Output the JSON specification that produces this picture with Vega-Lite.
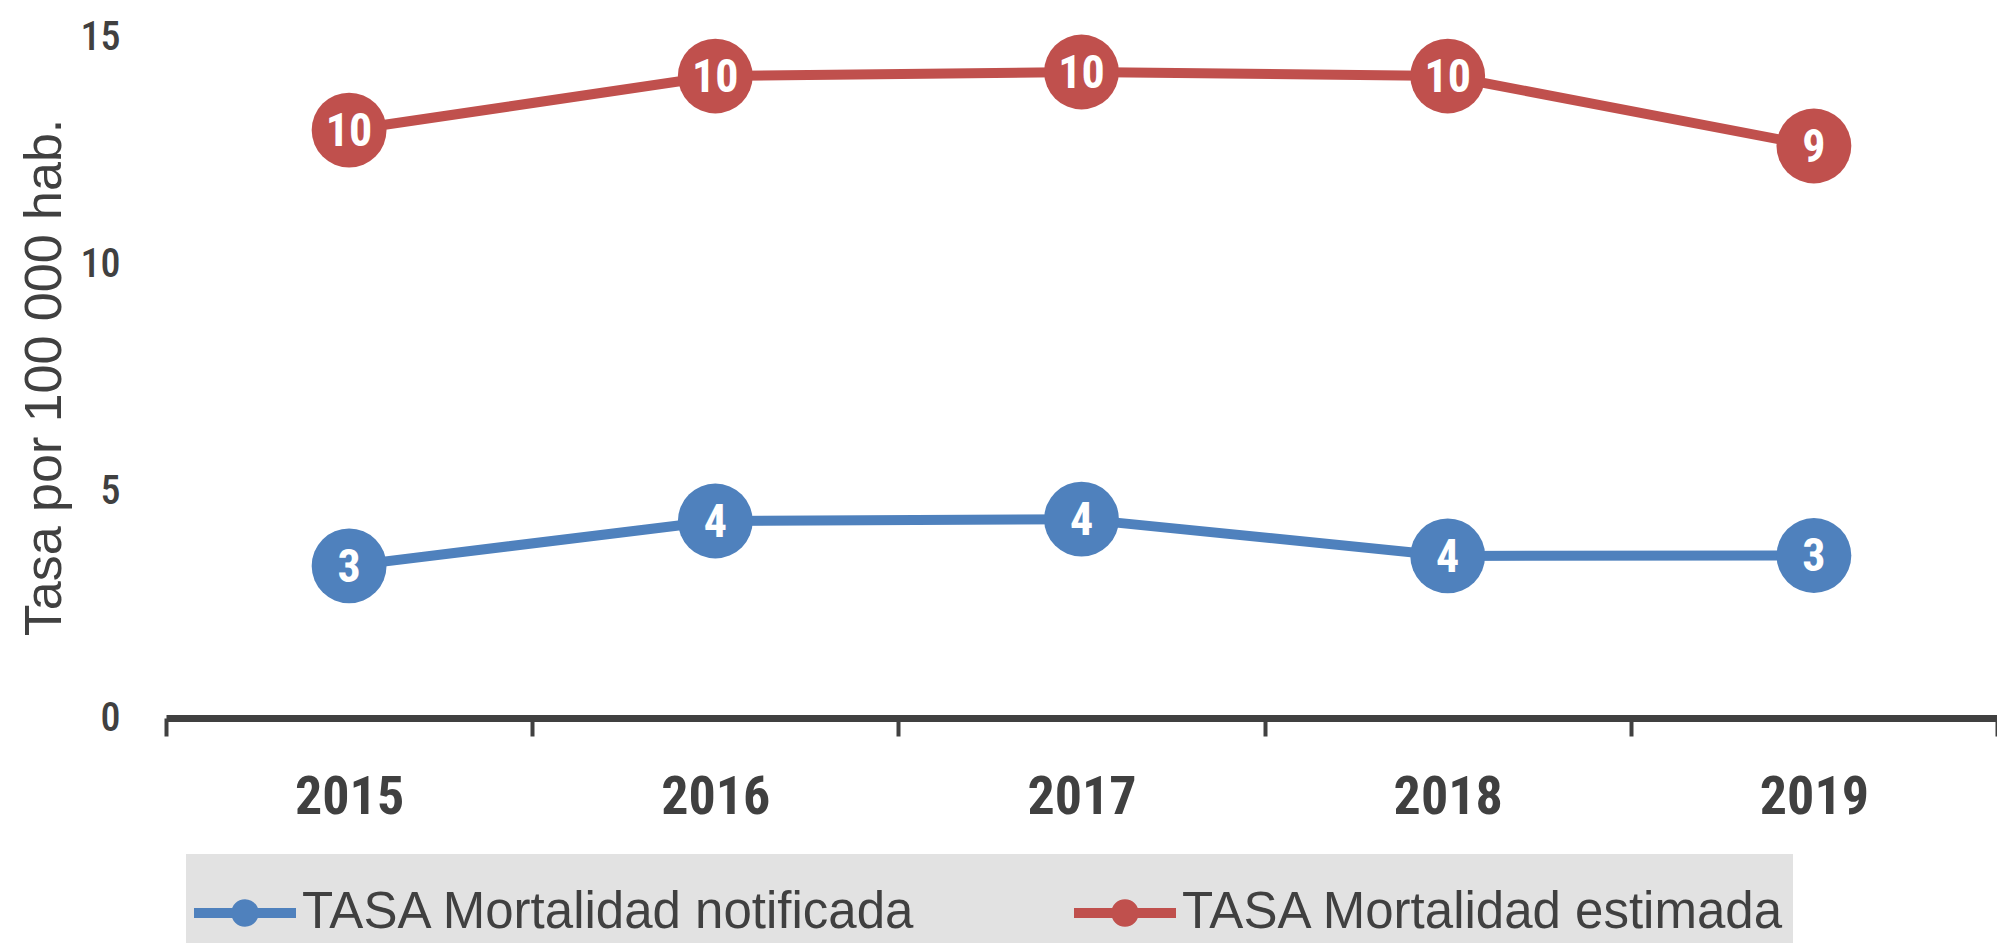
{
  "$schema": "https://vega.github.io/schema/vega-lite/v6.json",
  "width": 1831,
  "height": 681,
  "autosize": {"type": "none"},
  "padding": {"left": 166, "top": 37, "right": 0, "bottom": 225},
  "background": "#ffffff",
  "config": {"view": {"stroke": null}},
  "data": {
    "values": [
      {"anio": "2015", "serie": "TASA Mortalidad notificada", "valor": 3.35, "etiqueta": "3"},
      {"anio": "2016", "serie": "TASA Mortalidad notificada", "valor": 4.34, "etiqueta": "4"},
      {"anio": "2017", "serie": "TASA Mortalidad notificada", "valor": 4.38, "etiqueta": "4"},
      {"anio": "2018", "serie": "TASA Mortalidad notificada", "valor": 3.57, "etiqueta": "4"},
      {"anio": "2019", "serie": "TASA Mortalidad notificada", "valor": 3.58, "etiqueta": "3"},
      {"anio": "2015", "serie": "TASA Mortalidad estimada", "valor": 12.95, "etiqueta": "10"},
      {"anio": "2016", "serie": "TASA Mortalidad estimada", "valor": 14.14, "etiqueta": "10"},
      {"anio": "2017", "serie": "TASA Mortalidad estimada", "valor": 14.23, "etiqueta": "10"},
      {"anio": "2018", "serie": "TASA Mortalidad estimada", "valor": 14.14, "etiqueta": "10"},
      {"anio": "2019", "serie": "TASA Mortalidad estimada", "valor": 12.6, "etiqueta": "9"}
    ]
  },
  "encoding": {
    "x": {
      "field": "anio",
      "type": "ordinal",
      "scale": {"type": "band", "paddingInner": 0, "paddingOuter": 0},
      "axis": {
        "title": null,
        "labelAngle": 0,
        "domainColor": "#404040",
        "domainWidth": 7,
        "tickColor": "#404040",
        "tickWidth": 4,
        "tickSize": 18,
        "tickBand": "extent",
        "labelFont": "Roboto Condensed, DejaVu Sans Condensed, sans-serif",
        "labelFontSize": 54,
        "labelFontWeight": "bold",
        "labelColor": "#404040",
        "labelPadding": 34
      }
    },
    "y": {
      "field": "valor",
      "type": "quantitative",
      "scale": {"domain": [0, 15], "nice": false},
      "axis": {
        "values": [0, 5, 10, 15],
        "domain": false,
        "ticks": false,
        "tickSize": 0,
        "grid": false,
        "labelFont": "Roboto Condensed, DejaVu Sans Condensed, sans-serif",
        "labelFontSize": 40,
        "labelFontWeight": 500,
        "labelColor": "#404040",
        "labelPadding": 46,
        "title": "Tasa por 100 000 hab.",
        "titleFont": "Liberation Sans",
        "titleFontSize": 52,
        "titleFontWeight": "normal",
        "titleColor": "#404040",
        "titleX": -106,
        "titleY": 340,
        "titleBaseline": "alphabetic",
        "titleAlign": "center",
        "titleAngle": -90
      }
    },
    "color": {
      "field": "serie",
      "type": "nominal",
      "scale": {
        "domain": ["TASA Mortalidad notificada", "TASA Mortalidad estimada"],
        "range": ["#4F81BD", "#C0504D"]
      },
      "legend": {
        "title": null,
        "orient": "none",
        "direction": "horizontal",
        "legendX": 20,
        "legendY": 817,
        "fillColor": "#e2e2e2",
        "padding": 8,
        "symbolType": "M-1,-0.1H1V0.1H-1Z M-0.27,0A0.27,0.27 0 1,1 0.27,0A0.27,0.27 0 1,1 -0.27,0Z",
        "symbolSize": 10404,
        "symbolStrokeWidth": 0,
        "symbolOpacity": 1,
        "labelFont": "Liberation Sans",
        "labelFontSize": 51,
        "labelColor": "#404040",
        "labelOffset": 6,
        "labelLimit": 2000,
        "columnPadding": 157
      }
    }
  },
  "layer": [
    {"mark": {"type": "line", "strokeWidth": 10}},
    {"mark": {"type": "circle", "size": 5600, "opacity": 1}},
    {
      "mark": {
        "type": "text",
        "font": "Roboto Condensed, DejaVu Sans Condensed, sans-serif",
        "fontSize": 46,
        "fontWeight": "bold",
        "align": "center",
        "baseline": "middle",
        "dy": 2,
        "color": "#ffffff"
      },
      "encoding": {
        "text": {"field": "etiqueta"},
        "color": {"value": "#ffffff"}
      }
    }
  ]
}
